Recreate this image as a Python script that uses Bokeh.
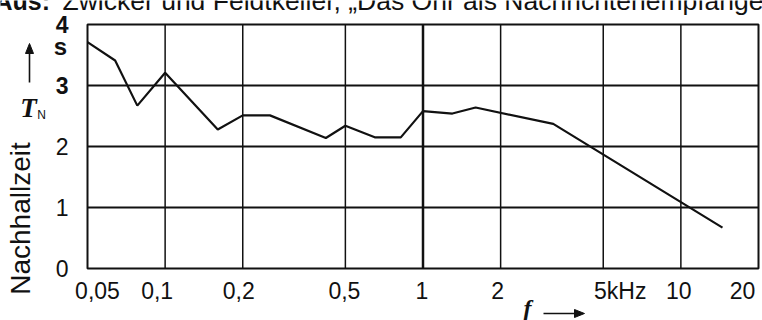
import math
from bokeh.plotting import figure
from bokeh.models import Range1d, LogScale
from bokeh.core.properties import value
from bokeh.embed import file_html
from bokeh.resources import INLINE

# ---- data ----
freq_khz = [0.05, 0.064, 0.078, 0.10, 0.16, 0.20, 0.255, 0.42, 0.50, 0.65,
            0.82, 1.0, 1.3, 1.6, 3.2, 14.5]
t_n_s = [3.71, 3.41, 2.67, 3.21, 2.28, 2.51, 2.51, 2.14, 2.34, 2.15,
         2.15, 2.58, 2.54, 2.64, 2.37, 0.67]

x_ticks = [0.05, 0.1, 0.2, 0.5, 1, 2, 5, 10, 20]
x_tick_labels = ["0,05", "0,1", "0,2", "0,5", "1", "2", "5kHz", "10", "20"]
y_ticks = [0, 1, 2, 3, 4]
y_tick_labels = ["0", "1", "2", "3", "4"]
y_title = "Nachhallzeit"
y_symbol = ("T", "N")
y_unit = "s"
x_symbol = "f"
source_note = ("Aus:", "Zwicker und Feldtkeller, „Das Ohr als Nachrichtenempfänger“")

# ---- layout / style (canvas pixels, origin top-left) ----
W, H = 762, 320
FL, FR, FT, FB = 87, 758, 24, 268          # chart frame inside the canvas
x_label_dx = [10, -8, -4, -1, -1, -3, 17, -2, -16]
v_grid_width = [1.5, 1.5, 1.5, 2.5, 1.5, 1.5, 1.5]
y_label_style = ["normal", "normal", "normal", "bold", "bold"]
INK = "#111111"
SANS = "Liberation Sans"
SERIF = "Liberation Serif"

# canvas-pixel ranges for the decorations, y growing downwards
p = figure(width=W, height=H, x_range=Range1d(0, W), y_range=Range1d(H, 0),
           output_backend="svg", toolbar_location=None,
           x_axis_location=None, y_axis_location=None, min_border=0)
p.outline_line_color = None
p.grid.visible = False
p.background_fill_color = "white"
p.border_fill_color = "white"

# data scales: log frequency axis and linear reverberation-time axis,
# mapped onto the chart frame
lo, hi = math.log10(x_ticks[0]), math.log10(x_ticks[-1])
kx = (hi - lo) / (FR - FL)
ky = (y_ticks[-1] - y_ticks[0]) / (FB - FT)
p.extra_x_ranges = {"f": Range1d(10 ** (lo - FL * kx), 10 ** (hi + (W - FR) * kx))}
p.extra_x_scales = {"f": LogScale()}
p.extra_y_ranges = {"tn": Range1d(y_ticks[0] - (H - FB) * ky,
                                  y_ticks[-1] + FT * ky)}
R = dict(x_range_name="f", y_range_name="tn")

# grid lines
vx = x_ticks[1:-1]
p.segment(x0=vx, x1=vx, y0=[y_ticks[0]] * len(vx), y1=[y_ticks[-1]] * len(vx),
          line_color=INK, line_width=v_grid_width, **R)
hy = y_ticks[1:-1]
p.segment(x0=[x_ticks[0]] * len(hy), x1=[x_ticks[-1]] * len(hy), y0=hy, y1=hy,
          line_color=INK, line_width=2, **R)
# frame
p.quad(left=[x_ticks[0]], right=[x_ticks[-1]], bottom=[y_ticks[0]],
       top=[y_ticks[-1]], fill_color=None, line_color=INK, line_width=2, **R)

# data line
p.line(freq_khz, t_n_s, line_color=INK, line_width=2.2, **R)

# x tick labels
p.text(x=x_ticks, y=[y_ticks[0]] * len(x_ticks), text=x_tick_labels,
       x_offset=x_label_dx, y_offset=22, text_align="center",
       text_baseline="middle", text_font=value(SANS),
       text_font_size=value("23px"), text_color=INK, **R)

# y tick labels
p.text(x=[x_ticks[0]] * len(y_ticks), y=y_ticks, text=y_tick_labels,
       x_offset=-19, text_align="right", text_baseline="middle",
       text_font=value(SANS), text_font_style=y_label_style,
       text_font_size=value("23px"), text_color=INK, **R)

# unit "s"
p.text(x=[60], y=[46], text=[y_unit], text_align="center",
       text_baseline="middle", text_font=value(SANS),
       text_font_style="bold", text_font_size=value("24px"), text_color=INK)

# y title: arrow, T_N, Nachhallzeit
p.segment(x0=[29], y0=[82], x1=[29], y1=[50], line_color=INK, line_width=1.6)
p.patches(xs=[[25, 33, 29]], ys=[[53, 53, 43]], fill_color=INK, line_color=INK)
p.text(x=[28], y=[107], text=[y_symbol[0]], text_align="center",
       text_baseline="middle", text_font=value(SERIF),
       text_font_style="bold italic", text_font_size=value("27px"),
       text_color=INK)
p.text(x=[41], y=[114], text=[y_symbol[1]], text_align="center",
       text_baseline="middle", text_font=value(SANS),
       text_font_size=value("12px"), text_color=INK)
p.text(x=[20], y=[218], text=[y_title], angle=math.pi / 2,
       text_align="center", text_baseline="middle",
       text_font=value(SANS), text_font_size=value("28px"), text_color=INK)

# x title: f ->
p.text(x=[527], y=[307], text=[x_symbol], text_align="center",
       text_baseline="middle", text_font=value(SERIF),
       text_font_style="bold italic", text_font_size=value("24px"),
       text_color=INK)
p.segment(x0=[543], y0=[313], x1=[576], y1=[313], line_color=INK, line_width=1.6)
p.patches(xs=[[574, 574, 584]], ys=[[309, 317, 313]], fill_color=INK,
          line_color=INK)

# source note at the very top (cut off, as in the original page)
p.text(x=[-6], y=[0], text=[source_note[0]], text_align="left",
       text_baseline="middle", text_font=value(SANS), text_font_style="bold",
       text_font_size=value("25px"), text_color=INK)
p.text(x=[62], y=[0], text=[source_note[1]], text_align="left",
       text_baseline="middle", text_font=value(SANS),
       text_font_size=value("26.5px"), text_color=INK)

open("out.html", "w").write(file_html(p, INLINE))
